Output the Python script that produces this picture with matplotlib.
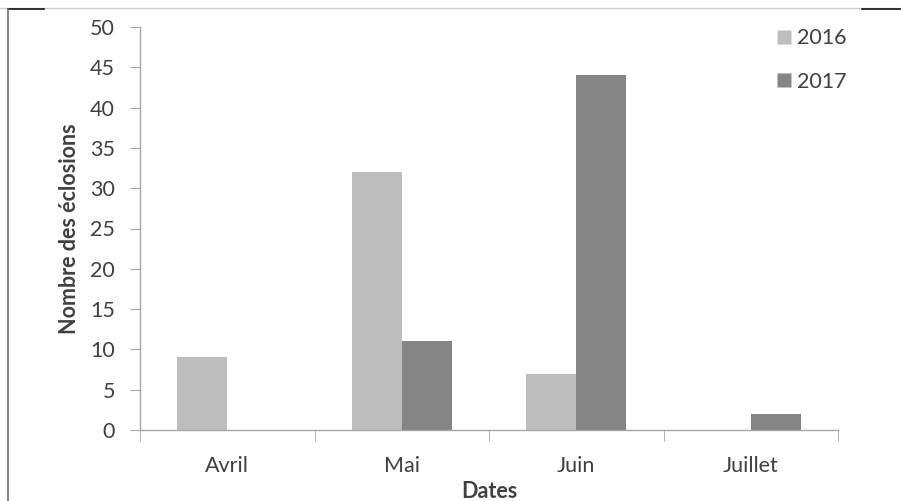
import matplotlib.pyplot as plt
from matplotlib.lines import Line2D
import numpy as np

plt.rcParams['font.family'] = ['Lato', 'DejaVu Sans']

mois = ["Avril", "Mai", "Juin", "Juillet"]
annees = ["2016", "2017"]
eclosions_2016 = [9, 32, 7, 0]
eclosions_2017 = [0, 11, 44, 2]

C_2016 = "#bdbdbd"; C_2017 = "#858585"
C_AXIS = "#a6a6a6"; C_TEXT = "#404040"
FS = 15.5

fig = plt.figure(figsize=(9.01, 5.01), dpi=100)
ax = fig.add_axes([140/901, 1 - 430/501, 698/901, 403/501])

x = np.arange(len(mois))
w = 0.286
ax.bar(x - w/2, eclosions_2016, w, color=C_2016, label=annees[0])
ax.bar(x + w/2, eclosions_2017, w, color=C_2017, label=annees[1])

ax.set_xlim(-0.5, len(mois) - 0.5)
ax.set_ylim(0, 50)
ax.set_yticks(range(0, 51, 5))
ax.set_xticks(x)
ax.set_xticklabels(mois)
ax.set_xticks(np.arange(-0.5, len(mois)), minor=True)

for s in ["top", "right"]:
    ax.spines[s].set_visible(False)
for s in ["left", "bottom"]:
    ax.spines[s].set_color(C_AXIS)
    ax.spines[s].set_linewidth(1.0)

ax.tick_params(axis="y", length=7, color=C_AXIS, labelsize=FS,
               labelcolor=C_TEXT, pad=11)
ax.tick_params(axis="x", which="major", length=0, labelsize=FS,
               labelcolor=C_TEXT, pad=19)
ax.tick_params(axis="x", which="minor", length=8, color=C_AXIS)

ax.set_ylabel("Nombre des éclosions", fontsize=FS, fontweight="bold",
              color=C_TEXT, labelpad=7)
ax.set_xlabel("Dates", fontsize=FS, fontweight="bold", color=C_TEXT,
              labelpad=3)

handles = [Line2D([], [], marker="s", ls="none", markersize=10,
                  markerfacecolor=c, markeredgecolor="none")
           for c in (C_2016, C_2017)]
leg = ax.legend(handles, annees, loc="upper left",
                bbox_to_anchor=(0.879, 1.045), frameon=False,
                fontsize=FS, labelspacing=1.1, handletextpad=0.1,
                handlelength=1.0)
for t in leg.get_texts():
    t.set_color(C_TEXT)

# frame lines of the original picture
fig.add_artist(Line2D([0, 1], [1 - 8/501] * 2, color="#d0d0d0", lw=1,
                      transform=fig.transFigure))
fig.add_artist(Line2D([8/901, 44/901], [1 - 9/501] * 2, color="#111111",
                      lw=1.2, transform=fig.transFigure))
fig.add_artist(Line2D([862/901, 1], [1 - 9/501] * 2, color="#111111",
                      lw=1.2, transform=fig.transFigure))
fig.add_artist(Line2D([8/901] * 2, [0, 1 - 9/501], color="#707070",
                      lw=1.2, transform=fig.transFigure))

fig.savefig("out.png", dpi=100, facecolor="white")
